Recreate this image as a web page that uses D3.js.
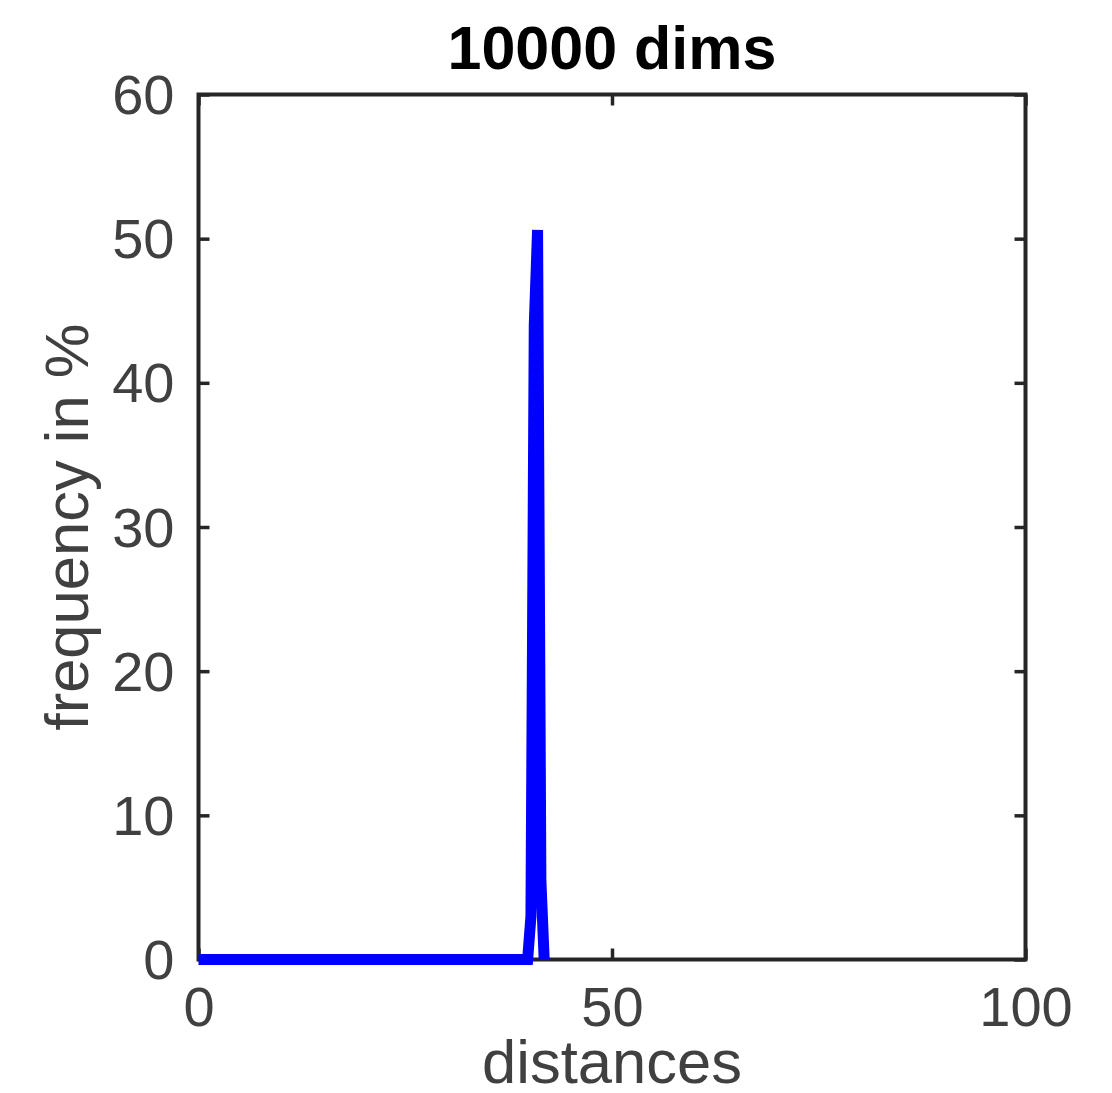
<!DOCTYPE html>
<html>
<head>
<meta charset="utf-8">
<script src="https://cdn.jsdelivr.net/npm/d3@7.9.0/dist/d3.min.js"></script>
<style>
  body { margin: 0; background: #fff; }
  svg { display: block; font-family: "Liberation Sans", Arial, Helvetica, sans-serif; }
</style>
</head>
<body>
<svg id="chart" width="1112" height="1093"></svg>
<script>
// histogram of distances (10000 dims)
const distances = [0, 39.8, 40.2, 40.6, 41.0, 41.4, 41.8];
const frequency = [0, 0, 3, 44, 50.6, 5.5, 0];
const xTicks = [0, 50, 100];
const yTicks = [0, 10, 20, 30, 40, 50, 60];
const title = '10000 dims';
const xLabel = 'distances';
const yLabel = 'frequency in %';

const svg = d3.select('#chart');
const plotLeft = 198.5, plotRight = 1025.5, plotTop = 94.5, plotBottom = 959.5;
const AXIS_COLOR = '#262626';
const TEXT_COLOR = '#404040';

const x = d3.scaleLinear().domain([0, 100]).range([plotLeft, plotRight]);
const y = d3.scaleLinear().domain([0, 60]).range([plotBottom, plotTop]);

svg.append('rect').attr('width', 1112).attr('height', 1093).attr('fill', '#fff');

// axes: ticks point inward on all four sides
function styleAxis(g, showLabels) {
    g.select('.domain').remove();
    g.selectAll('.tick line').attr('stroke', AXIS_COLOR).attr('stroke-width', 3.5);
    g.selectAll('.tick text')
        .attr('fill', TEXT_COLOR)
        .style('font-size', '56px')
        .style('display', showLabels ? null : 'none');
}

svg.append('g')
    .attr('transform', `translate(0,${plotBottom})`)
    .call(d3.axisBottom(x).tickValues(xTicks).tickSize(-11).tickPadding(0))
    .call(g => styleAxis(g, true))
    .call(g => g.selectAll('.tick text').attr('y', 66).attr('dy', null));

svg.append('g')
    .attr('transform', `translate(0,${plotTop})`)
    .call(d3.axisTop(x).tickValues(xTicks).tickSize(-11))
    .call(g => styleAxis(g, false));

svg.append('g')
    .attr('transform', `translate(${plotLeft},0)`)
    .call(d3.axisLeft(y).tickValues(yTicks).tickSize(-11))
    .call(g => styleAxis(g, true))
    .call(g => g.selectAll('.tick text').attr('x', -24).attr('dy', null).attr('y', 19));

svg.append('g')
    .attr('transform', `translate(${plotRight},0)`)
    .call(d3.axisRight(y).tickValues(yTicks).tickSize(-11))
    .call(g => styleAxis(g, false));

// box
svg.append('rect')
    .attr('x', plotLeft).attr('y', plotTop)
    .attr('width', plotRight - plotLeft).attr('height', plotBottom - plotTop)
    .attr('fill', 'none')
    .attr('stroke', AXIS_COLOR)
    .attr('stroke-width', 4);

// data line
const line = d3.line()
    .x((d, i) => x(distances[i]))
    .y(d => y(d));

svg.append('path')
    .datum(frequency)
    .attr('d', line)
    .attr('fill', 'none')
    .attr('stroke', '#0000ff')
    .attr('stroke-width', 11)
    .attr('stroke-linejoin', 'miter')
    .attr('stroke-miterlimit', 4);

// title and labels
svg.append('text')
    .attr('x', (plotLeft + plotRight) / 2).attr('y', 69)
    .attr('text-anchor', 'middle')
    .attr('font-weight', 'bold')
    .style('font-size', '61px')
    .attr('fill', '#000')
    .text(title);

svg.append('text')
    .attr('x', (plotLeft + plotRight) / 2).attr('y', 1083)
    .attr('text-anchor', 'middle')
    .style('font-size', '61.5px')
    .attr('fill', TEXT_COLOR)
    .text(xLabel);

svg.append('text')
    .attr('transform', `translate(88,${(plotTop + plotBottom) / 2}) rotate(-90)`)
    .attr('text-anchor', 'middle')
    .style('font-size', '61.5px')
    .attr('fill', TEXT_COLOR)
    .text(yLabel);
</script>
</body>
</html>
